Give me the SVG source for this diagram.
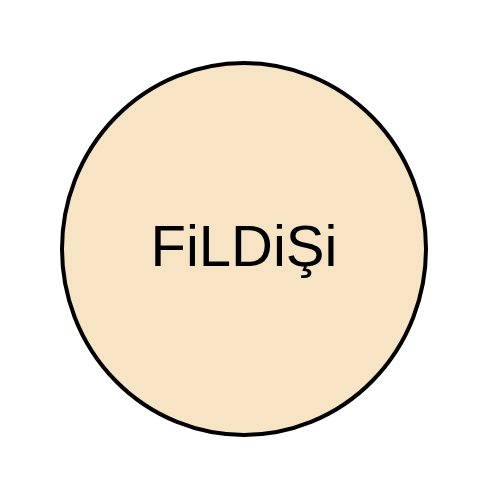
<svg xmlns="http://www.w3.org/2000/svg" width="500" height="500" viewBox="0 0 500 500">
<style>
.node{fill:#F7E4C5;stroke:#000;stroke-width:4}
.lbl{font-family:"Liberation Sans",Arial,sans-serif;font-size:58px;fill:#000;text-anchor:middle}
</style>
<rect width="500" height="500" fill="#fff"/>
<g id="connectors"></g>
<g id="node-fildisi">
<ellipse class="node" cx="244" cy="249" rx="182" ry="186"/>
<text class="lbl" x="244" y="266">FiLDiŞi</text>
</g>
</svg>
